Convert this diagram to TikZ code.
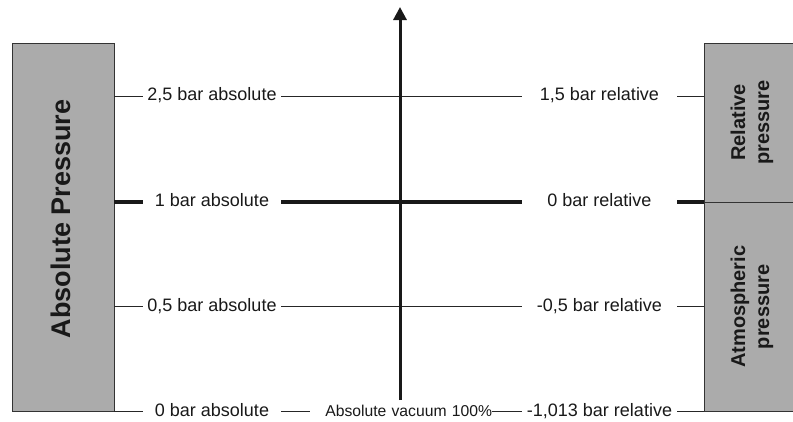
\documentclass[tikz,border=0pt]{standalone}
\usepackage{fontspec}
\setmainfont{Liberation Sans}
\usetikzlibrary{arrows.meta}

\begin{document}
\begin{tikzpicture}[
  x=1pt, y=-1pt,
  panel/.style={
    rectangle, draw=black!80, fill=black!33, line width=0.9pt,
    inner sep=0pt
  },
  paneltext/.style={
    rotate=90, align=center, text=black!90,
    font=\bfseries\fontsize{20}{24}\selectfont
  },
  levellabel/.style={
    fill=white, inner sep=0pt, text height=13pt, text depth=4pt,
    text=black!90, font=\fontsize{18}{21}\selectfont
  },
  thinline/.style={black!85, line width=0.8pt},
  thickline/.style={black!90, line width=4pt},
  axisarrow/.style={-{Triangle[length=13pt,width=13pt]}, black!90, line width=3pt},
]
\useasboundingbox (0,0) rectangle (793,421);

% Pressure panels
\node[panel, minimum width=102pt, minimum height=368.5pt] (absbox) at (63,227.25) {};
\node[panel, minimum width=96pt, minimum height=159pt] (relbox) at (752,122.5) {};
\node[panel, minimum width=96pt, minimum height=209.5pt] (atmbox) at (752,306.75) {};

% Level positions
\coordinate (lvhigh) at (212,96);
\coordinate (lvatm)  at (212,201.5);
\coordinate (lvhalf) at (212,306.5);
\coordinate (lvvac)  at (212,411.5);

% Level lines
\draw[thinline]  (absbox.east |- lvhigh) -- (relbox.west |- lvhigh);
\draw[thickline] (absbox.east |- lvatm)  -- (relbox.west |- lvatm);
\draw[thinline]  (absbox.east |- lvhalf) -- (atmbox.west |- lvhalf);
\draw[thinline]  (absbox.east |- lvvac)  -- (atmbox.west |- lvvac);

% Pressure axis
\coordinate (axisfoot) at (400,400);
\coordinate (axistop)  at (400,7);
\draw[axisarrow] (axisfoot) -- (axistop);

% Absolute labels
\node[levellabel, minimum width=138pt] (abshigh) at (lvhigh) {2,5 bar absolute};
\node[levellabel, minimum width=138pt] (absatm)  at (lvatm)  {1 bar absolute};
\node[levellabel, minimum width=138pt] (abshalf) at (lvhalf) {0,5 bar absolute};
\node[levellabel, minimum width=138pt] (absvac)  at (lvvac)  {0 bar absolute};

% Relative labels
\node[levellabel, minimum width=155pt] (relhigh) at (599.5,96)    {1,5 bar relative};
\node[levellabel, minimum width=155pt] (relatm)  at (599.5,201.5) {0 bar relative};
\node[levellabel, minimum width=155pt] (relhalf) at (599.5,306.5) {-0,5 bar relative};
\node[levellabel, minimum width=155pt] (relvac)  at (599.5,411.5) {-1,013 bar relative};

% Vacuum
\node[levellabel, text width=182pt, align=right, text height=11pt, text depth=3pt,
  font=\fontsize{15.7}{18}\selectfont] (vacuum) at (401,412) {Absolute vacuum 100\%};

% Panel texts
\node[paneltext, font=\bfseries\fontsize{27}{32}\selectfont] (abstext) at (61,219) {Absolute Pressure};
\node[paneltext] (reltext) at (relbox.center) {Relative\\pressure};
\node[paneltext] (atmtext) at (atmbox.center) {Atmospheric\\pressure};

\end{tikzpicture}
\end{document}
